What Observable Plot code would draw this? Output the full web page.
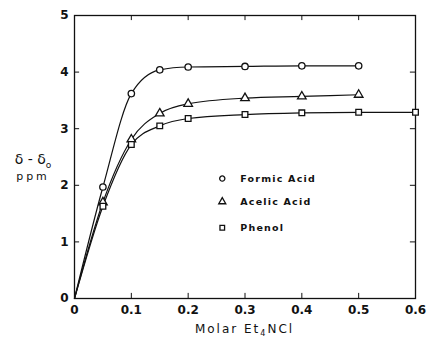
<!DOCTYPE html>
<html><head><meta charset="utf-8">
<script src="https://cdn.jsdelivr.net/npm/d3@7"></script>
<script src="https://cdn.jsdelivr.net/npm/@observablehq/plot@0.6"></script>
<style>
body{margin:0;background:#fff;}
#c{position:relative;width:427px;height:338px;}
.yl{position:absolute;font-family:"DejaVu Sans",sans-serif;font-size:12px;color:#111;text-align:center;width:60px;left:3px;}
.leg text{letter-spacing:1.2px;}
</style>
</head><body>
<div id="c"></div>
<script>
const molar = [0, 0.05, 0.1, 0.15, 0.2, 0.3, 0.4, 0.5];
const molarPhenol = [0, 0.05, 0.1, 0.15, 0.2, 0.3, 0.4, 0.5, 0.6];
const formic = [0, 1.97, 3.62, 4.04, 4.09, 4.10, 4.11, 4.11];
const acetic = [0, 1.70, 2.81, 3.27, 3.44, 3.54, 3.57, 3.60];
const phenol = [0, 1.63, 2.72, 3.05, 3.18, 3.25, 3.28, 3.29, 3.29];
const seriesNames = ["Formic Acid", "Acelic Acid", "Phenol"];
const symbols = ["circle", "triangle", "square"];
const xTicks = [0, 0.1, 0.2, 0.3, 0.4, 0.5, 0.6];
const yTicks = [0, 1, 2, 3, 4, 5];

const rows = [];
molar.forEach((m, i) => rows.push({s: seriesNames[0], x: m, y: formic[i]}));
molar.forEach((m, i) => rows.push({s: seriesNames[1], x: m, y: acetic[i]}));
molarPhenol.forEach((m, i) => rows.push({s: seriesNames[2], x: m, y: phenol[i]}));
const pts = rows.filter(d => d.x > 0);

const legend = seriesNames.map((s, i) => ({s, x: 0.26, y: [2.12, 1.71, 1.25][i]}));

const font = "DejaVu Sans, sans-serif";
const chart = Plot.plot({
  width: 427, height: 338,
  marginLeft: 74, marginRight: 12, marginTop: 15, marginBottom: 40,
  style: {fontFamily: font, fontSize: "12px", color: "#111", background: "#fff"},
  x: {domain: [0, 0.6], ticks: xTicks, label: null},
  y: {domain: [0, 5], ticks: yTicks, label: null},
  symbol: {domain: seriesNames, range: symbols},
  marks: [
    Plot.frame({stroke: "#111", strokeWidth: 1.3}),
    Plot.axisX(xTicks, {tickSize: 0, tickPadding: 7, fontWeight: 600, tickFormat: d => d === 0 ? "0" : d.toFixed(1)}),
    Plot.axisY(yTicks, {tickSize: 0, tickPadding: 6, fontWeight: 600, tickFormat: d => String(d)}),
    Plot.ruleX(xTicks.slice(1, -1), {y1: 0, y2: 0.09, stroke: "#111"}),
    Plot.ruleX(xTicks.slice(1, -1), {y1: 5, y2: 4.91, stroke: "#111"}),
    Plot.ruleY(yTicks.slice(1, -1), {x1: 0, x2: 0.009, stroke: "#111"}),
    Plot.ruleY(yTicks.slice(1, -1), {x1: 0.6, x2: 0.591, stroke: "#111"}),
    Plot.line(rows, {x: "x", y: "y", z: "s", curve: "monotone-x", stroke: "#111", strokeWidth: 1.2}),
    Plot.dot(pts, {x: "x", y: "y", symbol: "s", r: 3.2, stroke: "#111", strokeWidth: 1.3, fill: "#fff"}),
    Plot.dot(legend, {x: "x", y: "y", symbol: "s", r: 2.6, stroke: "#111", strokeWidth: 1.3, fill: "#fff"}),
    Plot.text(legend, {x: "x", y: "y", text: "s", dx: 18, textAnchor: "start", fontSize: 9.5, fontWeight: "bold", fill: "#111", className: "leg"})
  ]
});
document.getElementById("c").appendChild(chart);
const c = document.getElementById("c");
const a = document.createElement("div"); a.className = "yl"; a.style.top = "151px"; a.style.fontSize = "14px"; a.innerHTML = "δ - δ<sub style='font-size:9px'>o</sub>"; c.appendChild(a);
const b = document.createElement("div"); b.className = "yl"; b.style.top = "170px"; b.style.fontSize = "11px"; b.style.letterSpacing = "3px"; b.textContent = "ppm"; c.appendChild(b);
const t = document.createElement("div"); t.className = "yl"; t.style.left = "74px"; t.style.width = "341px"; t.style.top = "322px"; t.style.fontSize = "12px"; t.style.letterSpacing = "2px"; t.innerHTML = "Molar Et<sub style='font-size:8px'>4</sub>NCl"; c.appendChild(t);
</script>
</body></html>
